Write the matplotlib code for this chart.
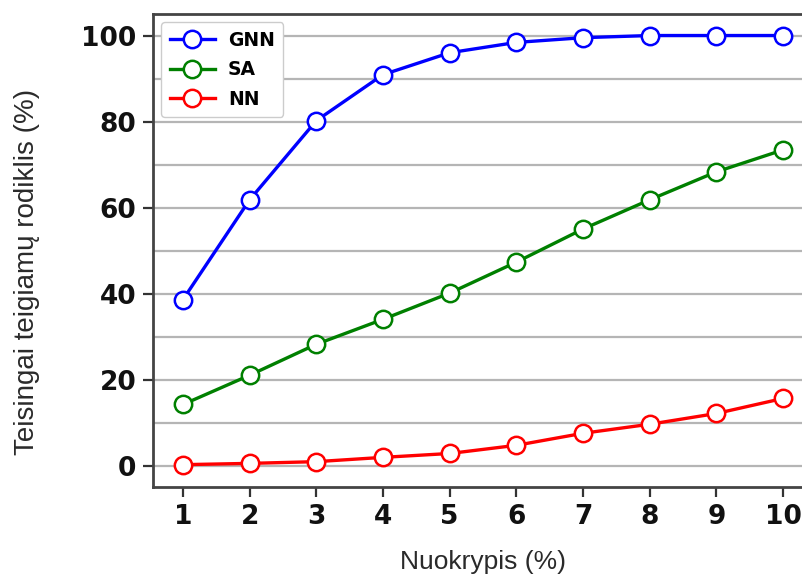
import matplotlib
matplotlib.use("Agg")
import matplotlib.pyplot as plt
from matplotlib.ticker import MultipleLocator

deviation = [1, 2, 3, 4, 5, 6, 7, 8, 9, 10]
gnn = [38.6, 61.8, 80.2, 90.9, 96.0, 98.4, 99.5, 100.0, 100.0, 100.0]
sa = [14.2, 21.0, 28.2, 34.0, 40.1, 47.3, 55.0, 61.8, 68.3, 73.4]
nn = [0.2, 0.5, 0.9, 1.9, 2.8, 4.7, 7.5, 9.6, 12.1, 15.6]

series = [("GNN", gnn, "#0000ff"), ("SA", sa, "#008000"), ("NN", nn, "#ff0000")]

fig = plt.figure(figsize=(8.03, 5.75), dpi=100)
ax = fig.add_axes([0.1905, 0.153, 0.822, 0.8226])

for name, vals, col in series:
    ax.plot(deviation, vals, color=col, lw=2.4, marker="o", ms=12.5,
            mfc="white", mec=col, mew=1.8, label=name, zorder=3)

ax.set_xlim(0.55, 10.45)
ax.set_ylim(-5, 105)
ax.set_xticks(deviation)
ax.yaxis.set_major_locator(MultipleLocator(20))
ax.yaxis.set_minor_locator(MultipleLocator(10))
ax.grid(True, axis="y", which="both", color="#b5b5b5", lw=1.6, zorder=0)
ax.tick_params(axis="both", which="major", labelsize=19, length=7, width=1.6,
               color="#333333", pad=5)
ax.tick_params(axis="y", which="minor", length=0)
for lbl in ax.get_xticklabels() + ax.get_yticklabels():
    lbl.set_fontweight("bold")
    lbl.set_color("#111111")
for sp in ax.spines.values():
    sp.set_linewidth(2)
    sp.set_color("#444444")

label_font = {"family": ["Liberation Sans", "DejaVu Sans"], "color": "#2a2a2a"}
ax.set_xlabel("Nuokrypis (%)", va="center", size=19, **label_font)
ax.set_ylabel("Teisingai teigiamų rodiklis (%)", va="center", size=20, **label_font)
ax.xaxis.set_label_coords(0.5, -0.1586)
ax.yaxis.set_label_coords(-0.191, 0.4545)

leg = ax.legend(loc="upper left", prop={"weight": "bold", "size": 13.5},
                handlelength=2.4, handletextpad=0.7, borderpad=0.45,
                labelspacing=0.55, borderaxespad=0.45,
                framealpha=1, edgecolor="#cccccc", fancybox=True)
for h in leg.legend_handles:
    h.set_markersize(12.5)

fig.savefig("out.png", dpi=100)
